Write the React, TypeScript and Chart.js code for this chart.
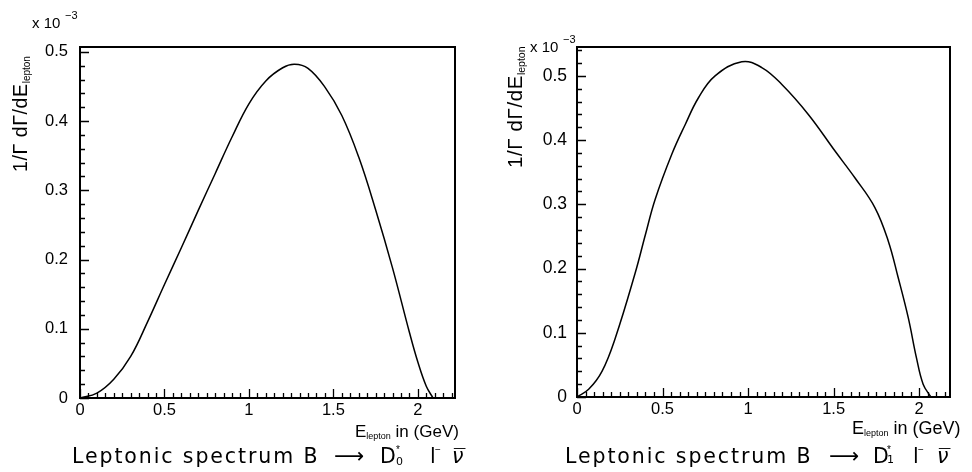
import React, { useEffect, useRef } from "react";
import { Chart, registerables } from "chart.js";

Chart.register(...registerables);

// ---------- data (values in units of 10^-3) ----------
const leftEnergy = [0, 0.1, 0.2, 0.3, 0.4, 0.5, 0.6, 0.7, 0.8, 0.9, 1.0, 1.1, 1.2, 1.27, 1.35, 1.45, 1.55, 1.65, 1.75, 1.85, 1.95, 2.0, 2.05, 2.09];
const leftRate = [0, 0.007, 0.027, 0.06, 0.11, 0.164, 0.217, 0.271, 0.324, 0.377, 0.425, 0.458, 0.477, 0.482, 0.476, 0.449, 0.408, 0.348, 0.272, 0.188, 0.095, 0.052, 0.017, 0];

const rightEnergy = [0, 0.068, 0.146, 0.224, 0.34, 0.4, 0.457, 0.554, 0.632, 0.71, 0.807, 0.963, 1.08, 1.196, 1.352, 1.508, 1.625, 1.741, 1.819, 1.877, 1.936, 1.984, 2.023, 2.068];
const rightRate = [0, 0.012, 0.04, 0.092, 0.193, 0.253, 0.308, 0.378, 0.424, 0.466, 0.5, 0.522, 0.513, 0.487, 0.44, 0.383, 0.341, 0.295, 0.243, 0.186, 0.1235, 0.061, 0.02, 0];

const xTickValues = [0, 0.5, 1, 1.5, 2];
const xTickLabels = ["0", "0.5", "1", "1.5", "2"];
const yTickValues = [0, 0.1, 0.2, 0.3, 0.4, 0.5];
const yTickLabels = ["0", "0.1", "0.2", "0.3", "0.4", "0.5"];

const leftTitleSub = "0";
const rightTitleSub = "1";

const FONT = "'Liberation Sans', 'DejaVu Sans', Arial, sans-serif";
const TFONT = "'DejaVu Sans', 'Liberation Sans', sans-serif";

type Seg = { t: string; size: number; dx?: number; dy?: number; italic?: boolean; ls?: number; fam?: string };

function drawRich(ctx: CanvasRenderingContext2D, x: number, y: number, segs: Seg[]) {
  let cur = 0;
  const c: any = ctx;
  for (const s of segs) {
    ctx.font = `${s.italic ? "italic " : ""}${s.size}px ${s.fam || FONT}`;
    c.letterSpacing = `${s.ls || 0}px`;
    const px = s.dx !== undefined ? s.dx : cur;
    ctx.fillText(s.t, x + px, y + (s.dy || 0));
    cur = px + ctx.measureText(s.t).width;
  }
  c.letterSpacing = "0px";
}

type PanelOpts = {
  energy: number[];
  rate: number[];
  xMax: number;
  yMax: number;
  yAxisWidth: number;
  padRight: number;
  padBottom: number;
  yPad: number;
  yFont: number;
  yTitle: { x: number; y: number; size: number; sub: number };
  mult: { x: number; y: number };
  xTitle: { x: number; y: number; size: number };
  title: { x: number; y: number; size: number; sub: string; subDy: number; offs: number[] };
};

function makeConfig(o: PanelOpts): any {
  const framePlugin = {
    id: "frameTicks",
    afterDraw(chart: any) {
      const ctx = chart.ctx as CanvasRenderingContext2D;
      const { left, right, top, bottom } = chart.chartArea;
      const xs = chart.scales.x;
      const ys = chart.scales.y;
      ctx.save();
      ctx.strokeStyle = "#000";
      ctx.lineWidth = 2;
      ctx.strokeRect(left, top, right - left, bottom - top);
      ctx.lineWidth = 1.3;
      ctx.beginPath();
      const nY = Math.floor(o.yMax / 0.02 + 1e-6);
      for (let i = 0; i <= nY; i++) {
        const py = Math.round(ys.getPixelForValue(i * 0.02)) + 0.5;
        const len = i % 5 === 0 ? 9 : 5;
        ctx.moveTo(left, py);
        ctx.lineTo(left + len, py);
      }
      const nX = Math.floor(o.xMax / 0.05 + 1e-6);
      for (let i = 0; i <= nX; i++) {
        const px = Math.round(xs.getPixelForValue(i * 0.05)) + 0.5;
        const len = i % 10 === 0 ? 9 : 5;
        ctx.moveTo(px, bottom);
        ctx.lineTo(px, bottom - len);
      }
      ctx.stroke();

      ctx.fillStyle = "#000";
      ctx.textAlign = "left";
      ctx.textBaseline = "alphabetic";
      // y-axis title (rotated)
      ctx.save();
      ctx.translate(o.yTitle.x, o.yTitle.y);
      ctx.rotate(-Math.PI / 2);
      drawRich(ctx, 0, 0, [
        { t: "1/Γ dΓ/dE", size: o.yTitle.size, ls: 0.6 },
        { t: "lepton", size: o.yTitle.sub, dy: 3 },
      ]);
      ctx.restore();
      // multiplier
      drawRich(ctx, o.mult.x, o.mult.y, [
        { t: "x 10", size: 15 },
        { t: "−3", size: 11, dy: -9, dx: 33 },
      ]);
      // x-axis title
      drawRich(ctx, o.xTitle.x, o.xTitle.y, [
        { t: "E", size: o.xTitle.size },
        { t: "lepton", size: 9, dy: 2 },
        { t: " in (GeV)", size: o.xTitle.size },
      ]);
      // bottom title
      const s = o.title.size;
      const f = o.title.offs;
      drawRich(ctx, o.title.x, o.title.y, [
        { t: "Leptonic spectrum B", size: s, dx: 0, ls: 1.9, fam: TFONT },
        { t: "⟶", size: 21, dx: f[0], dy: 0, fam: TFONT },
        { t: "D", size: s, dx: f[1], fam: TFONT },
        { t: "*", size: 10, dx: f[2], dy: -10 },
        { t: o.title.sub, size: 11, dx: f[2], dy: o.title.subDy, fam: TFONT },
        { t: "l", size: s, dx: f[3], fam: TFONT },
        { t: "−", size: 10, dx: f[4], dy: -10 },
        { t: "ν", size: s, dx: f[5], italic: true, fam: TFONT },
        { t: "¯", size: s, dx: f[5] + 2 },
      ]);
      ctx.restore();
    },
  };

  return {
    type: "line",
    data: {
      datasets: [
        {
          data: o.energy.map((x, i) => ({ x, y: o.rate[i] })),
          borderColor: "#000",
          borderWidth: 1.5,
          pointRadius: 0,
          fill: false,
          tension: 0.4,
        },
      ],
    },
    options: {
      responsive: false,
      animation: false,
      events: [],
      layout: { padding: { left: 0, right: o.padRight, top: 47, bottom: o.padBottom } },
      plugins: { legend: { display: false }, tooltip: { enabled: false }, title: { display: false } },
      scales: {
        x: {
          type: "linear",
          min: 0,
          max: o.xMax,
          grid: { display: false, drawTicks: false },
          border: { display: false },
          afterBuildTicks: (sc: any) => {
            sc.ticks = xTickValues.map((v) => ({ value: v }));
          },
          afterFit: (sc: any) => {
            sc.height = 30;
          },
          ticks: {
            autoSkip: false,
            maxRotation: 0,
            padding: 3,
            color: "#000",
            font: { size: 16.5, family: FONT },
            callback: (v: any) => xTickLabels[xTickValues.indexOf(Number(v))] ?? "",
          },
        },
        y: {
          type: "linear",
          min: 0,
          max: o.yMax,
          grid: { display: false, drawTicks: false },
          border: { display: false },
          afterBuildTicks: (sc: any) => {
            sc.ticks = yTickValues.map((v) => ({ value: v }));
          },
          afterFit: (sc: any) => {
            sc.width = o.yAxisWidth;
          },
          ticks: {
            padding: o.yPad,
            color: "#000",
            font: { size: o.yFont, family: FONT },
            callback: (v: any) => {
              const i = yTickValues.findIndex((t) => Math.abs(t - Number(v)) < 1e-9);
              return i >= 0 ? yTickLabels[i] : "";
            },
          },
        },
      },
    },
    plugins: [framePlugin],
  };
}

function Panel({ opts, left }: { opts: PanelOpts; left: number }) {
  const ref = useRef<HTMLCanvasElement | null>(null);
  useEffect(() => {
    if (!ref.current) return;
    const chart = new Chart(ref.current, makeConfig(opts));
    return () => chart.destroy();
  }, []);
  return (
    <canvas
      ref={ref}
      width={486}
      height={472}
      style={{ position: "absolute", left, top: 0, width: 486, height: 472 }}
    />
  );
}

const leftOpts: PanelOpts = {
  energy: leftEnergy,
  rate: leftRate,
  xMax: 2.22,
  yMax: 0.507,
  yAxisWidth: 80,
  padRight: 31,
  padBottom: 44,
  yPad: 12,
  yFont: 16.5,
  yTitle: { x: 27, y: 172, size: 19.5, sub: 10 },
  mult: { x: 32, y: 28 },
  xTitle: { x: 355, y: 437, size: 17 },
  title: { x: 72, y: 463, size: 20.5, sub: leftTitleSub, subDy: 2, offs: [262, 308, 324, 358, 363, 380] },
};

const rightOpts: PanelOpts = {
  energy: rightEnergy,
  rate: rightRate,
  xMax: 2.18,
  yMax: 0.545,
  yAxisWidth: 91,
  padRight: 22,
  padBottom: 45,
  yPad: 10,
  yFont: 17.5,
  yTitle: { x: 522 - 486, y: 168, size: 20.5, sub: 10.5 },
  mult: { x: 44, y: 52 },
  xTitle: { x: 366, y: 434, size: 18 },
  title: { x: 565 - 486, y: 463, size: 20.5, sub: rightTitleSub, subDy: 0, offs: [264, 308, 322, 348, 353, 372] },
};

export default function App() {
  return (
    <div style={{ position: "absolute", left: 0, top: 0, width: 972, height: 472, background: "#fff" }}>
      <Panel opts={leftOpts} left={0} />
      <Panel opts={rightOpts} left={486} />
    </div>
  );
}
